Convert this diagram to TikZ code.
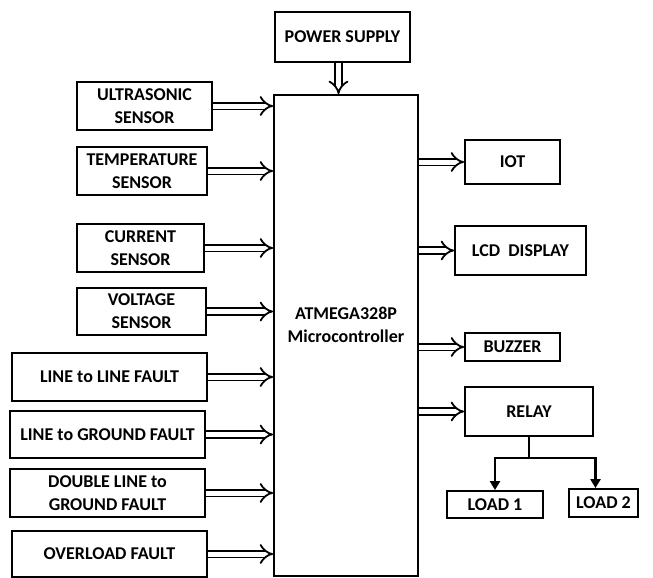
\documentclass[tikz,border=0pt]{standalone}
\usepackage{fontspec}
\setmainfont{Carlito}
\usetikzlibrary{arrows.meta}

\begin{document}
\begin{tikzpicture}[x=1pt, y=-1pt, font=\fontsize{18}{23}\selectfont\bfseries,
      b/.style={draw, line width=1.8pt, align=center, inner sep=1pt},
      dar/.style={line width=1.8pt, double, double distance=5pt,
                  -{Implies[length=8pt,width=18pt]}},
      ta/.style={line width=2.6pt, -{Triangle[length=9pt,width=10pt]}}]

    \useasboundingbox (0,0) rectangle (653,578);

    % Centro
    \node[b, minimum width=144, minimum height=481, text depth=22pt] (mcu) at (346,335.5)
      {ATMEGA328P\\Microcontroller};
    \node[b, minimum width=135, minimum height=50] (ps) at (342.5,37) {POWER SUPPLY};

    % Entradas
    \node[b, minimum width=135, minimum height=48] (us) at (144.5,106) {ULTRASONIC\\SENSOR};
    \node[b, minimum width=130, minimum height=48] (tmp) at (142,171) {TEMPERATURE\\SENSOR};
    \node[b, minimum width=127, minimum height=48] (cur) at (140.5,248) {CURRENT\\SENSOR};
    \node[b, minimum width=129, minimum height=47] (vol) at (141.5,311.5) {VOLTAGE\\SENSOR};
    \node[b, minimum width=195, minimum height=48] (ll) at (109.5,377) {LINE to LINE FAULT};
    \node[b, minimum width=195, minimum height=47] (lg) at (107.5,434.5) {LINE to GROUND FAULT};
    \node[b, minimum width=195, minimum height=48] (dlg) at (107.5,493) {DOUBLE LINE to\\GROUND FAULT};
    \node[b, minimum width=195, minimum height=46] (ol) at (109.5,554) {OVERLOAD FAULT};

    % Salidas
    \node[b, minimum width=95, minimum height=44] (iot) at (512.5,162) {IOT};
    \node[b, minimum width=131, minimum height=49] (lcd) at (520.5,250.5) {LCD\ \ DISPLAY};
    \node[b, minimum width=95, minimum height=28] (buz) at (512.5,347) {BUZZER};
    \node[b, minimum width=128, minimum height=49] (rel) at (529,411.5) {RELAY};
    \node[b, minimum width=96, minimum height=27] (l1) at (495,504.5) {LOAD 1};
    \node[b, minimum width=69, minimum height=28] (l2) at (603.5,503) {LOAD 2};

    % Alimentacion
    \draw[dar] ([xshift=-4pt]ps.south) -- ([xshift=-4pt]ps.south |- mcu.north);

    % Sensores y fallas al microcontrolador
    \draw[dar] (us.east) -- (us.east -| mcu.west);
    \draw[dar] (tmp.east) -- (tmp.east -| mcu.west);
    \draw[dar] (cur.east) -- (cur.east -| mcu.west);
    \draw[dar] (vol.east) -- (vol.east -| mcu.west);
    \draw[dar] (ll.east) -- (ll.east -| mcu.west);
    \draw[dar] (lg.east) -- (lg.east -| mcu.west);
    \draw[dar] (dlg.east) -- (dlg.east -| mcu.west);
    \draw[dar] (ol.east) -- (ol.east -| mcu.west);

    % Microcontrolador a las salidas
    \draw[dar] (iot.west -| mcu.east) -- (iot.west);
    \draw[dar] (lcd.west -| mcu.east) -- (lcd.west);
    \draw[dar] (buz.west -| mcu.east) -- (buz.west);
    \draw[dar] (rel.west -| mcu.east) -- (rel.west);

    % Rele a las cargas
    \coordinate (j) at (529,458);
    \draw[line width=2.6pt] (rel.south) -- (j);
    \draw[ta] (j) -| (l1.north);
    \draw[ta] (j) -| ([xshift=-8pt]l2.north);
  \end{tikzpicture}
\end{document}
